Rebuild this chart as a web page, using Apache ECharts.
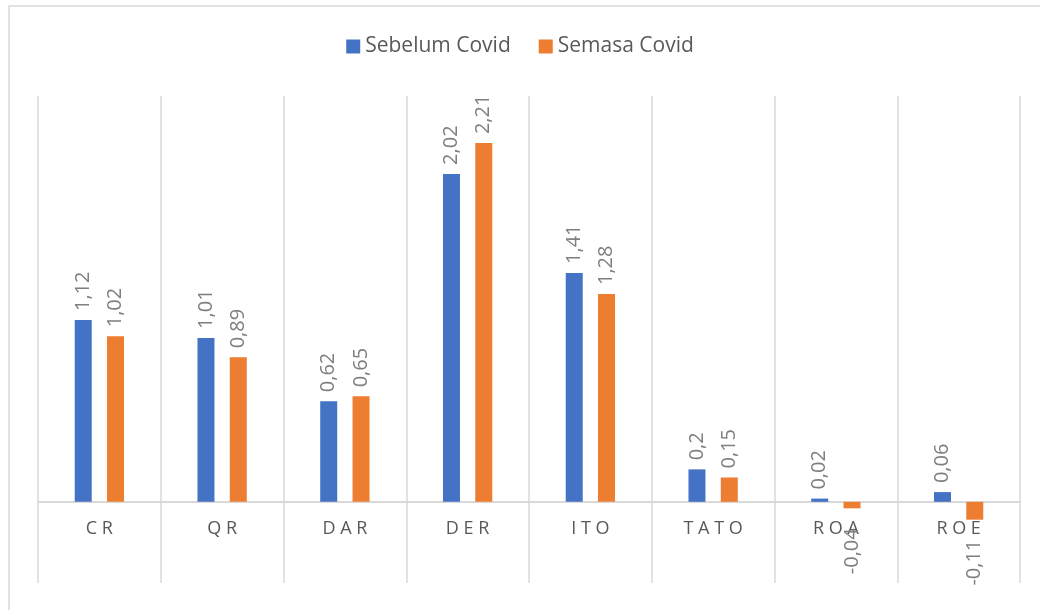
<!DOCTYPE html>
<html>
<head>
<meta charset="utf-8">
<script src="https://cdn.jsdelivr.net/npm/echarts@6/dist/echarts.min.js"></script>
<style>html,body{margin:0;padding:0;background:#fff;}#c{width:1040px;height:610px;}</style>
</head>
<body>
<div id="c"></div>
<script>
const categories = ['CR', 'QR', 'DAR', 'DER', 'ITO', 'TATO', 'ROA', 'ROE'];
const seriesNames = ['Sebelum Covid', 'Semasa Covid'];
const sebelumCovid = [1.12, 1.01, 0.62, 2.02, 1.41, 0.2, 0.02, 0.06];
const semasaCovid = [1.02, 0.89, 0.65, 2.21, 1.28, 0.15, -0.04, -0.11];
const colors = ['#4472C4', '#ED7D31'];
const FONT = '"Open Sans"';
const GRID = { left: 38, right: 20, top: 96, bottom: 27 };

function fmt(v) { return String(v).replace('.', ','); }
function toData(arr) {
  return arr.map(v => v < 0
    ? { value: v, label: { position: 'bottom', align: 'right', distance: 20 } }
    : { value: v });
}
function makeSeries(name, arr, color) {
  return {
    name: name, type: 'bar', data: toData(arr), barWidth: 17, barGap: '90%',
    xAxisIndex: 0,
    itemStyle: { color: color },
    label: {
      show: true, position: 'top', rotate: 90, align: 'left', verticalAlign: 'middle',
      distance: 9, color: '#7f7f7f', fontFamily: FONT, fontSize: 20,
      formatter: p => fmt(p.value)
    }
  };
}
const chart = echarts.init(document.getElementById('c'));
chart.setOption({
  animation: false,
  backgroundColor: '#fff',
  graphic: [{ type: 'rect', shape: { x: 9, y: 6, width: 1040, height: 620 },
    style: { fill: 'none', stroke: '#d9d9d9', lineWidth: 1.5 }, silent: true }],
  legend: {
    top: 31, left: 'center', itemWidth: 14, itemHeight: 14, itemGap: 28,
    icon: 'rect',
    textStyle: { color: '#595959', fontFamily: FONT, fontSize: 21 },
    data: seriesNames
  },
  grid: Object.assign({ containLabel: false, outerBoundsMode: 'none' }, GRID),
  xAxis: [{
    type: 'category', data: categories, position: 'bottom',
    axisLine: { onZero: true, lineStyle: { color: '#d9d9d9', width: 2 } },
    axisTick: { show: false },
    splitLine: { show: true, lineStyle: { color: '#d9d9d9', width: 1.5 } },
    axisLabel: { show: false }
  }, {
    type: 'category', data: categories, position: 'bottom', offset: 0,
    axisLine: { show: false, onZero: false },
    axisTick: { show: false },
    splitLine: { show: false },
    axisLabel: { color: '#595959', fontFamily: FONT, fontSize: 18, margin: 18,
      formatter: v => v.split('').join(' ') }
  }],
  yAxis: {
    type: 'value', min: -0.5, max: 2.5, interval: 0.5,
    axisLine: { show: false }, axisTick: { show: false }, axisLabel: { show: false },
    splitLine: { show: false }
  },
  series: [
    makeSeries(seriesNames[0], sebelumCovid, colors[0]),
    makeSeries(seriesNames[1], semasaCovid, colors[1])
  ]
});
// move the label axis up to the zero line of the value scale
const zeroY = chart.convertToPixel({ yAxisIndex: 0 }, 0);
const bottomY = chart.getHeight() - GRID.bottom;
chart.setOption({ xAxis: [{}, { offset: -(bottomY - zeroY) }] });
</script>
</body>
</html>
